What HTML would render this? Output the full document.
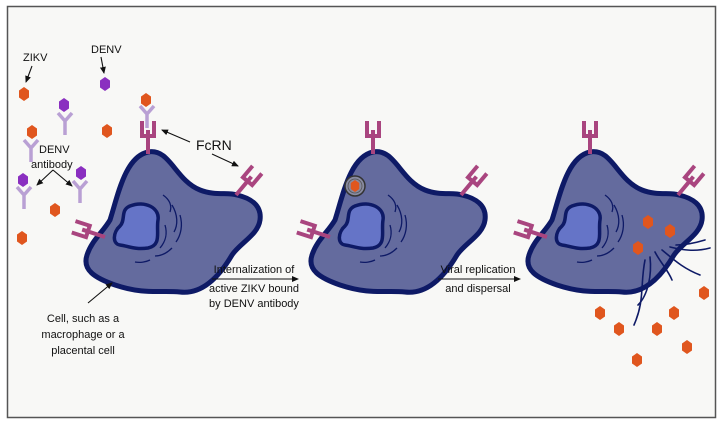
<!DOCTYPE html>
<html><head><meta charset="utf-8"><style>
html,body{margin:0;padding:0;background:#fff;}
svg{display:block;font-family:"Liberation Sans",sans-serif;}
</style></head><body>
<svg width="722" height="427" viewBox="0 0 722 427" xmlns="http://www.w3.org/2000/svg">
<defs>
  <marker id="ah" markerWidth="8" markerHeight="8" refX="6" refY="4" orient="auto" markerUnits="userSpaceOnUse">
    <path d="M0,1 L7,4 L0,7 Z" fill="#111"/>
  </marker>
  <path id="hex" d="M0,-7 L5,-3.5 L5,3.5 L0,7 L-5,3.5 L-5,-3.5 Z"/>
  <g id="fc">
    <path d="M0,0 L0,-18 M-6,-33 L-6,-18 L6,-18 L6,-33 M0,-18 L0,-24" fill="none" stroke="#a9457f" stroke-width="4"/>
  </g>
  <g id="ab">
    <path d="M0,22 L0,8 L-7,0 M0,8 L7,0" fill="none" stroke="#b9a0d4" stroke-width="3.5"/>
  </g>
  <g id="cell">
    <path d="M148,152 C170,148 175,180 200,190 C215,196 228,192 237,195 C250,198 262,205 260,220 C258,235 240,243 232,255 C222,272 205,295 180,292 C160,290 145,295 115,285 C95,278 82,270 87,255 C92,240 103,232 110,220 C118,195 125,157 148,152 Z" fill="#646b9e" stroke="#0e1a66" stroke-width="5"/>
    <path d="M130,206 C145,200 160,208 158,220 C156,232 162,245 148,248 C135,250 128,246 120,245 C112,244 113,232 120,226 C126,220 120,210 130,206 Z" fill="#6574c7" stroke="#0e1a66" stroke-width="3.5"/>
    <g fill="none" stroke="#0e1a66" stroke-width="1.3">
      <path d="M163,195 C170,200 172,206 170,212"/>
      <path d="M172,205 C178,215 178,225 174,232"/>
      <path d="M165,225 C168,235 165,242 160,248"/>
      <path d="M180,215 C183,225 181,235 176,242"/>
      <path d="M155,256 C162,256 168,252 172,248"/>
      <path d="M135,262 C140,263 146,262 150,260"/>
    </g>
  </g>
</defs>
<rect x="0" y="0" width="722" height="427" fill="#fff"/>
<rect x="7.5" y="6.5" width="708" height="411" fill="#f8f8f6" stroke="#555" stroke-width="1.5"/>

<use href="#cell"/>
<use href="#cell" transform="translate(225,0)"/>
<use href="#cell" transform="translate(442,0)"/>

<use href="#fc" transform="translate(148,154)"/>
<use href="#fc" transform="translate(236,195) rotate(40)"/>
<use href="#fc" transform="translate(105,237) rotate(-72)"/>
<use href="#fc" transform="translate(373,154)"/>
<use href="#fc" transform="translate(461,195) rotate(40)"/>
<use href="#fc" transform="translate(330,237) rotate(-72)"/>
<use href="#fc" transform="translate(590,154)"/>
<use href="#fc" transform="translate(678,195) rotate(40)"/>
<use href="#fc" transform="translate(547,237) rotate(-72)"/>

<circle cx="355" cy="186" r="10" fill="#888aa0" stroke="#333" stroke-width="1.5"/>
<circle cx="355" cy="186" r="7" fill="none" stroke="#555" stroke-width="0.8"/>
<use href="#hex" transform="translate(355,186) scale(0.85)" fill="#e0561e"/>

<g fill="none" stroke="#0e1a66" stroke-width="1.6" stroke-linecap="round">
  <path d="M655,252 C660,262 668,270 672,280"/>
  <path d="M662,250 C672,258 682,268 700,275"/>
  <path d="M670,247 C682,250 695,252 710,248"/>
  <path d="M676,245 C686,245 695,243 705,240"/>
  <path d="M650,257 C652,275 648,295 638,305"/>
  <path d="M645,260 C640,285 645,300 634,325"/>
</g>

<use href="#ab" transform="translate(147,106)"/>
<use href="#hex" transform="translate(146,100)" fill="#e0561e"/>

<use href="#ab" transform="translate(65,113)"/>
<use href="#hex" transform="translate(64,105)" fill="#8a2fc0"/>
<use href="#ab" transform="translate(31,140)"/>
<use href="#hex" transform="translate(32,132)" fill="#e0561e"/>
<use href="#ab" transform="translate(24,187)"/>
<use href="#hex" transform="translate(23,180)" fill="#8a2fc0"/>
<use href="#ab" transform="translate(80,181)"/>
<use href="#hex" transform="translate(81,173)" fill="#8a2fc0"/>

<g fill="#e0561e">
<use href="#hex" transform="translate(24,94)"/>
<use href="#hex" transform="translate(107,131)"/>
<use href="#hex" transform="translate(55,210)"/>
<use href="#hex" transform="translate(22,238)"/>
<use href="#hex" transform="translate(648,222)"/>
<use href="#hex" transform="translate(670,231)"/>
<use href="#hex" transform="translate(638,248)"/>
<use href="#hex" transform="translate(600,313)"/>
<use href="#hex" transform="translate(619,329)"/>
<use href="#hex" transform="translate(657,329)"/>
<use href="#hex" transform="translate(674,313)"/>
<use href="#hex" transform="translate(704,293)"/>
<use href="#hex" transform="translate(687,347)"/>
<use href="#hex" transform="translate(637,360)"/>
</g>
<use href="#hex" transform="translate(105,84)" fill="#8a2fc0"/>

<g font-size="11" fill="#111">
<text x="23" y="61">ZIKV</text>
<text x="91" y="53">DENV</text>
<text x="39" y="153">DENV</text>
<text x="31" y="168">antibody</text>
<text x="196" y="150" font-size="14">FcRN</text>
<g text-anchor="middle">
<text x="83" y="322">Cell, such as a</text>
<text x="83" y="338">macrophage or a</text>
<text x="83" y="354">placental cell</text>
<text x="254" y="273">Internalization of</text>
<text x="254" y="292">active ZIKV bound</text>
<text x="254" y="307">by DENV antibody</text>
<text x="478" y="273">Viral replication</text>
<text x="478" y="292">and dispersal</text>
</g>
</g>

<g stroke="#111" stroke-width="1.1" fill="none" marker-end="url(#ah)">
<line x1="32" y1="66" x2="26" y2="82"/>
<line x1="101" y1="57" x2="104" y2="73"/>
<line x1="190" y1="142" x2="162" y2="130"/>
<line x1="212" y1="154" x2="238" y2="166"/>
<line x1="53" y1="170" x2="37" y2="185"/>
<line x1="53" y1="170" x2="72" y2="186"/>
<line x1="88" y1="303" x2="112" y2="283"/>
<line x1="212" y1="279" x2="298" y2="279"/>
<line x1="438" y1="279" x2="520" y2="279"/>
</g>
</svg>
</body></html>
